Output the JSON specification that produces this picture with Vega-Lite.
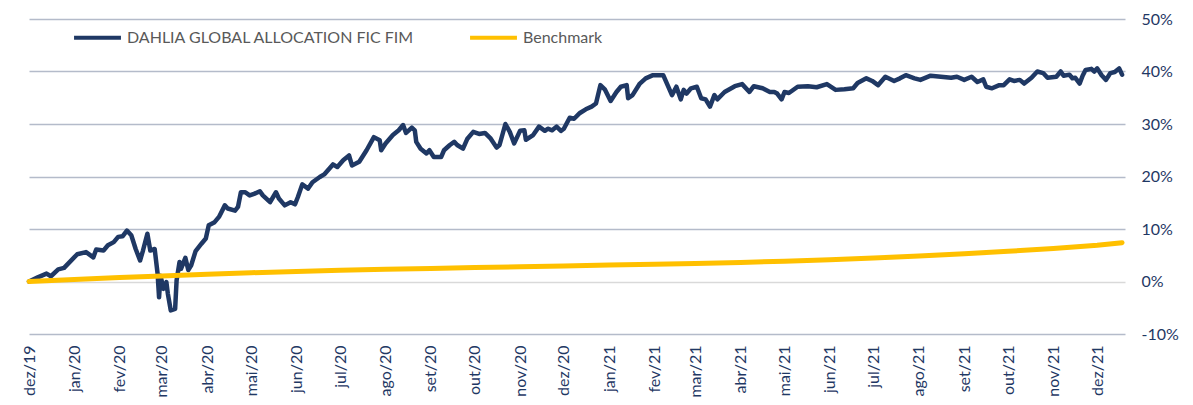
{
  "$schema": "https://vega.github.io/schema/vega-lite/v6.json",
  "autosize": {"type": "none"},
  "padding": {"left": 29, "top": 19, "right": 68, "bottom": 71},
  "width": 1096,
  "height": 315,
  "datasets": {
    "fund": [
      {"date":"2019-12-01","value":0},{"date":"2019-12-07","value":0.8},{"date":"2019-12-13","value":1.5},{"date":"2019-12-16","value":1.0},{"date":"2019-12-21","value":2.3},{"date":"2019-12-25","value":2.6},
      {"date":"2020-01-03","value":5.2},{"date":"2020-01-09","value":5.6},{"date":"2020-01-14","value":4.6},{"date":"2020-01-16","value":6.1},{"date":"2020-01-21","value":5.9},{"date":"2020-01-24","value":6.9},{"date":"2020-01-28","value":7.5},{"date":"2020-01-31","value":8.5},
      {"date":"2020-02-03","value":8.6},{"date":"2020-02-06","value":9.7},{"date":"2020-02-09","value":8.8},{"date":"2020-02-12","value":6.2},{"date":"2020-02-15","value":4.0},{"date":"2020-02-17","value":5.9},{"date":"2020-02-20","value":9.1},{"date":"2020-02-22","value":5.9},{"date":"2020-02-25","value":6.2},{"date":"2020-02-27","value":1.5},{"date":"2020-02-28","value":-3.0},{"date":"2020-02-29","value":1.1},
      {"date":"2020-03-02","value":-1.4},{"date":"2020-03-04","value":-0.1},{"date":"2020-03-05","value":-2.3},{"date":"2020-03-07","value":-5.5},{"date":"2020-03-10","value":-5.2},{"date":"2020-03-11","value":0.2},{"date":"2020-03-13","value":3.7},{"date":"2020-03-14","value":2.4},{"date":"2020-03-17","value":4.5},{"date":"2020-03-19","value":2.2},{"date":"2020-03-21","value":3.1},{"date":"2020-03-24","value":5.8},{"date":"2020-03-28","value":7.2},{"date":"2020-03-31","value":8.2},
      {"date":"2020-04-02","value":10.7},{"date":"2020-04-06","value":11.3},{"date":"2020-04-09","value":12.3},{"date":"2020-04-13","value":14.5},{"date":"2020-04-15","value":13.9},{"date":"2020-04-20","value":13.5},{"date":"2020-04-22","value":14.2},{"date":"2020-04-24","value":17.0},{"date":"2020-04-27","value":17.0},{"date":"2020-04-30","value":16.4},
      {"date":"2020-05-03","value":16.7},{"date":"2020-05-07","value":17.2},{"date":"2020-05-09","value":16.4},{"date":"2020-05-14","value":15.1},{"date":"2020-05-18","value":17.0},{"date":"2020-05-20","value":15.8},{"date":"2020-05-24","value":14.5},{"date":"2020-05-28","value":15.1},{"date":"2020-05-31","value":14.7},
      {"date":"2020-06-02","value":16.1},{"date":"2020-06-05","value":18.5},{"date":"2020-06-09","value":17.7},{"date":"2020-06-12","value":18.9},{"date":"2020-06-17","value":19.9},{"date":"2020-06-20","value":20.4},{"date":"2020-06-26","value":22.3},{"date":"2020-06-29","value":21.8},
      {"date":"2020-07-03","value":23.1},{"date":"2020-07-07","value":24.0},{"date":"2020-07-09","value":22.1},{"date":"2020-07-14","value":22.8},{"date":"2020-07-19","value":25.0},{"date":"2020-07-24","value":27.5},{"date":"2020-07-28","value":26.9},{"date":"2020-07-29","value":25.0},
      {"date":"2020-08-01","value":26.3},{"date":"2020-08-06","value":27.9},{"date":"2020-08-10","value":28.8},{"date":"2020-08-13","value":29.8},{"date":"2020-08-15","value":28.3},{"date":"2020-08-19","value":29.3},{"date":"2020-08-21","value":28.8},{"date":"2020-08-22","value":26.6},{"date":"2020-08-25","value":25.3},{"date":"2020-08-29","value":24.4},{"date":"2020-08-31","value":25.0},
      {"date":"2020-09-03","value":23.7},{"date":"2020-09-08","value":23.7},{"date":"2020-09-10","value":25.0},{"date":"2020-09-14","value":26.0},{"date":"2020-09-17","value":26.6},{"date":"2020-09-19","value":26.0},{"date":"2020-09-23","value":25.3},{"date":"2020-09-26","value":27.2},{"date":"2020-09-30","value":28.5},
      {"date":"2020-10-04","value":28.1},{"date":"2020-10-08","value":28.3},{"date":"2020-10-12","value":27.2},{"date":"2020-10-16","value":25.5},{"date":"2020-10-18","value":26.0},{"date":"2020-10-22","value":30.0},{"date":"2020-10-25","value":28.5},{"date":"2020-10-28","value":26.3},
      {"date":"2020-11-01","value":28.7},{"date":"2020-11-04","value":28.8},{"date":"2020-11-05","value":27.0},{"date":"2020-11-10","value":27.9},{"date":"2020-11-14","value":29.5},{"date":"2020-11-18","value":28.7},{"date":"2020-11-20","value":29.1},{"date":"2020-11-23","value":28.8},{"date":"2020-11-26","value":29.5},{"date":"2020-11-29","value":28.7},
      {"date":"2020-12-01","value":29.1},{"date":"2020-12-05","value":31.2},{"date":"2020-12-08","value":31.0},{"date":"2020-12-12","value":32.1},{"date":"2020-12-16","value":32.8},{"date":"2020-12-20","value":33.3},{"date":"2020-12-23","value":33.9},{"date":"2020-12-26","value":37.4},{"date":"2020-12-29","value":36.6},
      {"date":"2021-01-02","value":34.4},{"date":"2021-01-06","value":36.1},{"date":"2021-01-09","value":37.1},{"date":"2021-01-13","value":37.4},{"date":"2021-01-14","value":34.9},{"date":"2021-01-17","value":35.5},{"date":"2021-01-22","value":37.7},{"date":"2021-01-26","value":38.7},{"date":"2021-01-31","value":39.3},
      {"date":"2021-02-07","value":39.3},{"date":"2021-02-10","value":37.4},{"date":"2021-02-13","value":35.5},{"date":"2021-02-16","value":37.1},{"date":"2021-02-19","value":34.7},{"date":"2021-02-21","value":36.5},{"date":"2021-02-23","value":35.8},{"date":"2021-02-26","value":36.8},
      {"date":"2021-03-02","value":37.1},{"date":"2021-03-05","value":34.9},{"date":"2021-03-08","value":34.7},{"date":"2021-03-11","value":33.3},{"date":"2021-03-14","value":35.5},{"date":"2021-03-16","value":34.7},{"date":"2021-03-21","value":36.1},{"date":"2021-03-28","value":37.2},
      {"date":"2021-04-02","value":37.6},{"date":"2021-04-07","value":36.1},{"date":"2021-04-10","value":37.2},{"date":"2021-04-16","value":36.8},{"date":"2021-04-21","value":36.1},{"date":"2021-04-24","value":36.1},{"date":"2021-04-26","value":35.8},{"date":"2021-04-29","value":34.7},
      {"date":"2021-05-01","value":36.1},{"date":"2021-05-04","value":35.9},{"date":"2021-05-10","value":37.1},{"date":"2021-05-17","value":37.2},{"date":"2021-05-23","value":37.0},{"date":"2021-05-30","value":37.6},
      {"date":"2021-06-05","value":36.5},{"date":"2021-06-11","value":36.6},{"date":"2021-06-17","value":36.8},{"date":"2021-06-20","value":37.8},{"date":"2021-06-26","value":38.7},{"date":"2021-06-30","value":38.2},
      {"date":"2021-07-04","value":37.4},{"date":"2021-07-09","value":39.0},{"date":"2021-07-15","value":38.2},{"date":"2021-07-19","value":38.7},{"date":"2021-07-23","value":39.3},{"date":"2021-07-29","value":38.7},
      {"date":"2021-08-02","value":38.4},{"date":"2021-08-09","value":39.2},{"date":"2021-08-16","value":39.0},{"date":"2021-08-23","value":38.8},{"date":"2021-08-27","value":39.0},
      {"date":"2021-09-01","value":38.4},{"date":"2021-09-06","value":39.0},{"date":"2021-09-10","value":38.0},{"date":"2021-09-14","value":38.5},{"date":"2021-09-16","value":37.1},{"date":"2021-09-20","value":36.8},{"date":"2021-09-25","value":37.4},{"date":"2021-09-28","value":37.4},
      {"date":"2021-10-02","value":38.5},{"date":"2021-10-05","value":38.2},{"date":"2021-10-09","value":38.4},{"date":"2021-10-12","value":37.7},{"date":"2021-10-17","value":38.8},{"date":"2021-10-21","value":40.0},{"date":"2021-10-25","value":39.7},{"date":"2021-10-28","value":38.8},
      {"date":"2021-11-03","value":39.0},{"date":"2021-11-06","value":40.0},{"date":"2021-11-08","value":39.2},{"date":"2021-11-12","value":39.4},{"date":"2021-11-14","value":38.7},{"date":"2021-11-16","value":38.8},{"date":"2021-11-19","value":37.7},{"date":"2021-11-21","value":39.2},{"date":"2021-11-23","value":40.3},{"date":"2021-11-27","value":40.5},{"date":"2021-11-29","value":40.0},
      {"date":"2021-12-01","value":40.6},{"date":"2021-12-04","value":39.3},{"date":"2021-12-07","value":38.4},{"date":"2021-12-10","value":39.7},{"date":"2021-12-13","value":39.9},{"date":"2021-12-16","value":40.6},{"date":"2021-12-18","value":39.4}
    ],
    "bench": [
      {"date":"2019-12-01","value":0},{"date":"2020-01-01","value":0.38},{"date":"2020-02-01","value":0.76},{"date":"2020-03-01","value":1.05},{"date":"2020-04-01","value":1.39},{"date":"2020-05-01","value":1.67},{"date":"2020-06-01","value":1.92},{"date":"2020-07-01","value":2.13},{"date":"2020-08-01","value":2.33},{"date":"2020-09-01","value":2.49},{"date":"2020-10-01","value":2.66},{"date":"2020-11-01","value":2.82},{"date":"2020-12-01","value":2.97},
      {"date":"2021-01-01","value":3.14},{"date":"2021-02-01","value":3.29},{"date":"2021-03-01","value":3.43},{"date":"2021-04-01","value":3.64},{"date":"2021-05-01","value":3.86},{"date":"2021-06-01","value":4.14},{"date":"2021-07-01","value":4.46},{"date":"2021-08-01","value":4.84},{"date":"2021-09-01","value":5.29},{"date":"2021-10-01","value":5.75},{"date":"2021-11-01","value":6.27},{"date":"2021-12-01","value":6.90},{"date":"2021-12-18","value":7.40}
    ]
  },
  "encoding": {
    "x": {
      "field": "date", "type": "temporal",
      "scale": {"type": "utc", "domain": [{"year": 2019, "month": 12, "date": 1, "utc": true}, {"year": 2021, "month": 12, "date": 20, "utc": true}]},
      "axis": {
        "title": null, "domain": false, "ticks": false, "grid": false,
        "tickCount": {"interval": "month", "step": 1},
        "labelAngle": -90, "labelAlign": "right", "labelBaseline": "middle",
        "labelPadding": 11, "labelFontSize": 16, "labelColor": "#1F3864", "labelFont": "Lato",
        "labelOverlap": false,
        "labelExpr": "['jan','fev','mar','abr','mai','jun','jul','ago','set','out','nov','dez'][utcmonth(datum.value)] + '/' + utcFormat(datum.value, '%y')"
      }
    },
    "y": {
      "field": "value", "type": "quantitative",
      "scale": {"domain": [-10, 50], "nice": false, "zero": false},
      "axis": {
        "title": null, "orient": "right", "domain": false, "ticks": false,
        "values": [-10, 0, 10, 20, 30, 40, 50],
        "labelExpr": "datum.value + '%'",
        "labelPadding": 16, "labelFontSize": 16, "labelColor": "#1F3864", "labelFont": "Lato",
        "grid": true, "gridWidth": 1.5,
        "gridColor": {"condition": {"test": "datum.value === 0", "value": "#D9D9D9"}, "value": "#B4BBCA"}
      }
    }
  },
  "layer": [
    {
      "data": {"name": "fund"},
      "mark": {"type": "line", "strokeWidth": 4.5, "strokeJoin": "round", "strokeCap": "round"},
      "encoding": {"color": {"datum": "DAHLIA GLOBAL ALLOCATION FIC FIM", "type": "nominal"}}
    },
    {
      "data": {"name": "bench"},
      "mark": {"type": "line", "strokeWidth": 5, "strokeCap": "round"},
      "encoding": {"color": {"datum": "Benchmark", "type": "nominal"}}
    }
  ],
  "resolve": {"scale": {"color": "shared"}},
  "config": {
    "font": "Lato",
    "view": {"stroke": null},
    "range": {"category": ["#1F3864", "#FFC000"]},
    "legend": {
      "orient": "none", "legendX": 43, "legendY": -7, "direction": "horizontal",
      "title": null, "symbolType": "stroke", "symbolSize": 2200, "symbolStrokeWidth": 4,
      "labelFontSize": 16, "labelColor": "#595959", "labelFont": "Lato", "labelLimit": 500,
      "labelOffset": 4, "columnPadding": 47
    }
  }
}
